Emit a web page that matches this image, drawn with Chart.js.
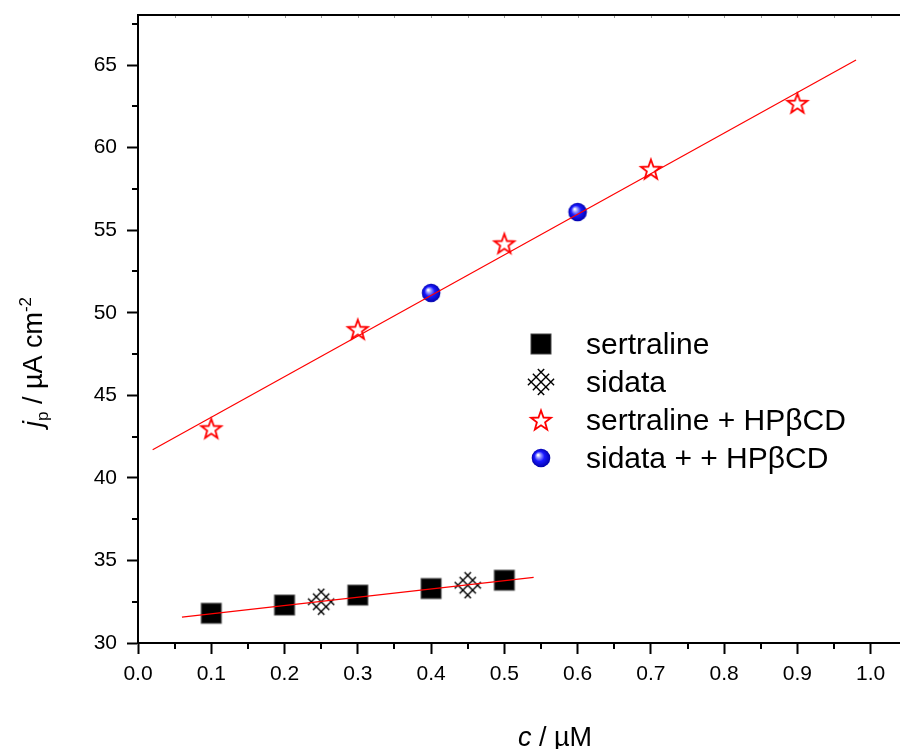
<!DOCTYPE html>
<html>
<head>
<meta charset="utf-8">
<script src="https://cdn.jsdelivr.net/npm/chart.js@4"></script>
<style>
    html, body { margin: 0; padding: 0; background: #fff; }
</style>
</head>
<body>
<canvas id="chart" width="900" height="749"></canvas>
<script>
// values
const sertralineX = [0.1, 0.2, 0.3, 0.4, 0.5];
const sertralineY = [31.8, 32.3, 32.9, 33.3, 33.8];
const sidataX = [0.25, 0.45];
const sidataY = [32.5, 33.5];
const sertralineCdX = [0.1, 0.3, 0.5, 0.7, 0.9];
const sertralineCdY = [43.0, 49.0, 54.2, 58.7, 62.7];
const sidataCdX = [0.4, 0.6];
const sidataCdY = [51.2, 56.1];
// linear fit lines (end points)
const fitLowX = [0.06, 0.54];
const fitLowY = [31.57, 33.97];
const fitHighX = [0.02, 0.98];
const fitHighY = [41.7, 65.3];
const legendLabels = ['sertraline', 'sidata', 'sertraline + HP\u03B2CD', 'sidata + + HP\u03B2CD'];

const FONT = "'Liberation Sans', Arial, sans-serif";

const toPoints = (xs, ys) => xs.map((x, i) => ({ x: x, y: ys[i] }));

// marker images
function makeMarker(kind) {
    const size = 28;
    const c = document.createElement('canvas');
    c.width = size;
    c.height = size;
    const g = c.getContext('2d');
    const m = size / 2;
    if (kind === 'square') {
        g.fillStyle = '#000';
        g.fillRect(m - 10, m - 10, 20, 20);
        g.strokeStyle = '#444';
        g.lineWidth = 1;
        g.strokeRect(m - 10, m - 10, 20, 20);
    } else if (kind === 'crossdiamond') {
        const a = 7, e = 4.5, s2 = Math.SQRT2;
        g.strokeStyle = '#000';
        g.lineWidth = 1.4;
        g.beginPath();
        [-a, 0, a].forEach(k => {
            const v1 = -a - e, v2 = a + e;
            g.moveTo(m + (k - v1) / s2, m + (k + v1) / s2);
            g.lineTo(m + (k - v2) / s2, m + (k + v2) / s2);
            g.moveTo(m + (v1 - k) / s2, m + (v1 + k) / s2);
            g.lineTo(m + (v2 - k) / s2, m + (v2 + k) / s2);
        });
        g.stroke();
    } else if (kind === 'star') {
        const R = 10.5, r = 4.3;
        g.beginPath();
        for (let i = 0; i < 10; i++) {
            const rad = i % 2 === 0 ? R : r;
            const ang = -Math.PI / 2 + i * Math.PI / 5;
            const px = m + rad * Math.cos(ang);
            const py = m + 1 + rad * Math.sin(ang);
            if (i === 0) g.moveTo(px, py); else g.lineTo(px, py);
        }
        g.closePath();
        g.fillStyle = '#fff';
        g.fill();
        g.strokeStyle = '#ff0000';
        g.lineWidth = 1.8;
        g.stroke();
    } else if (kind === 'ball') {
        const grad = g.createRadialGradient(m - 3, m - 3, 0.5, m, m, 9.5);
        grad.addColorStop(0, '#ffffff');
        grad.addColorStop(0.2, '#9a9cff');
        grad.addColorStop(0.5, '#1a1aff');
        grad.addColorStop(1, '#0000a8');
        g.fillStyle = grad;
        g.beginPath();
        g.arc(m, m, 9.3, 0, Math.PI * 2);
        g.fill();
    }
    return c;
}

const markers = {
    square: makeMarker('square'),
    crossdiamond: makeMarker('crossdiamond'),
    star: makeMarker('star'),
    ball: makeMarker('ball')
};
const legendMarkers = [markers.square, markers.crossdiamond, markers.star, markers.ball];

// rich text helper (italic, sub/superscripts)
function drawParts(ctx, parts, cx, baseline) {
    const widths = parts.map(p => {
        ctx.font = (p.italic ? 'italic ' : '') + p.size + 'px ' + FONT;
        return ctx.measureText(p.t).width;
    });
    const total = widths.reduce((s, w) => s + w, 0);
    let x = cx - total / 2;
    parts.forEach((p, i) => {
        ctx.font = (p.italic ? 'italic ' : '') + p.size + 'px ' + FONT;
        ctx.fillText(p.t, x, baseline + (p.dy || 0));
        x += widths[i];
    });
}

const decorPlugin = {
    id: 'decor',
    afterDraw(chart) {
        const ctx = chart.ctx;
        const area = chart.chartArea;
        const xs = chart.scales.x;
        const ys = chart.scales.y;
        ctx.save();

        // top frame line
        ctx.strokeStyle = '#000';
        ctx.lineWidth = 2;
        ctx.beginPath();
        ctx.moveTo(area.left, area.top);
        ctx.lineTo(chart.width, area.top);
        ctx.stroke();

        // faint ticks on top edge
        ctx.strokeStyle = '#999';
        ctx.lineWidth = 1;
        ctx.beginPath();
        for (let v = 0.05; v <= xs.max; v += 0.05) {
            const px = Math.round(xs.getPixelForValue(v)) + 0.5;
            ctx.moveTo(px, area.top + 1);
            ctx.lineTo(px, area.top + 3);
        }
        ctx.stroke();

        // minor ticks
        ctx.strokeStyle = '#000';
        ctx.lineWidth = 2;
        ctx.beginPath();
        for (let i = 1; i * 0.05 <= xs.max; i += 2) {
            const px = Math.round(xs.getPixelForValue(i * 0.05));
            ctx.moveTo(px, area.bottom);
            ctx.lineTo(px, area.bottom + 6);
        }
        for (let v = 32.5; v <= ys.max; v += 5) {
            const py = Math.round(ys.getPixelForValue(v));
            ctx.moveTo(area.left, py);
            ctx.lineTo(area.left - 6, py);
        }
        ctx.stroke();

        // axis titles
        ctx.fillStyle = '#000';
        ctx.textAlign = 'left';
        ctx.textBaseline = 'alphabetic';
        drawParts(ctx, [
            { t: 'c', italic: true, size: 27 },
            { t: ' / \u00B5M', size: 27 }
        ], 555, 746);

        ctx.save();
        ctx.translate(42, 362);
        ctx.rotate(-Math.PI / 2);
        drawParts(ctx, [
            { t: 'j', italic: true, size: 27 },
            { t: 'p', size: 17, dy: 6 },
            { t: ' / \u00B5A cm', size: 27 },
            { t: '-2', size: 17, dy: -11 }
        ], 0, 0);
        ctx.restore();

        // legend
        const rowsY = [344, 382, 420, 458];
        ctx.font = '30px ' + FONT;
        legendLabels.forEach((label, i) => {
            const img = legendMarkers[i];
            ctx.drawImage(img, 541 - img.width / 2, rowsY[i] - img.height / 2);
            ctx.fillText(label, 586, rowsY[i] + 10);
        });

        ctx.restore();
    }
};

const fitStyle = {
    showLine: true,
    borderColor: '#ff0000',
    borderWidth: 1.2,
    pointRadius: 0,
    fill: false
};

new Chart(document.getElementById('chart'), {
    type: 'scatter',
    data: {
        datasets: [
            Object.assign({ label: 'fit high', data: toPoints(fitHighX, fitHighY) }, fitStyle),
            Object.assign({ label: 'fit low', data: toPoints(fitLowX, fitLowY) }, fitStyle),
            { label: legendLabels[0], data: toPoints(sertralineX, sertralineY), pointStyle: markers.square },
            { label: legendLabels[1], data: toPoints(sidataX, sidataY), pointStyle: markers.crossdiamond },
            { label: legendLabels[2], data: toPoints(sertralineCdX, sertralineCdY), pointStyle: markers.star },
            { label: legendLabels[3], data: toPoints(sidataCdX, sidataCdY), pointStyle: markers.ball }
        ]
    },
    options: {
        responsive: false,
        animation: false,
        events: [],
        layout: { autoPadding: false, padding: { top: 15, left: 0, right: 0, bottom: 0 } },
        plugins: {
            legend: { display: false },
            tooltip: { enabled: false }
        },
        scales: {
            x: {
                type: 'linear',
                position: 'bottom',
                min: 0,
                max: 1.04,
                ticks: {
                    stepSize: 0.1,
                    includeBounds: false,
                    autoSkip: false,
                    maxRotation: 0,
                    padding: 8,
                    color: '#000',
                    font: { family: FONT, size: 21 },
                    callback: v => Number(v).toFixed(1)
                },
                grid: { drawOnChartArea: false, tickLength: 11, tickColor: '#000', tickWidth: 2 },
                border: { color: '#000', width: 2 },
                afterFit(scale) {
                    scale.height = 106;
                    scale.paddingLeft = 0;
                    scale.paddingRight = 0;
                }
            },
            y: {
                type: 'linear',
                min: 30,
                max: 68.03,
                ticks: {
                    stepSize: 5,
                    includeBounds: false,
                    padding: 10,
                    color: '#000',
                    font: { family: FONT, size: 21 },
                    callback: v => String(Math.round(v))
                },
                grid: { drawOnChartArea: false, tickLength: 11, tickColor: '#000', tickWidth: 2 },
                border: { color: '#000', width: 2 },
                afterFit(scale) {
                    scale.width = 138;
                    scale.paddingTop = 0;
                    scale.paddingBottom = 0;
                }
            }
        }
    },
    plugins: [decorPlugin]
});
</script>
</body>
</html>
